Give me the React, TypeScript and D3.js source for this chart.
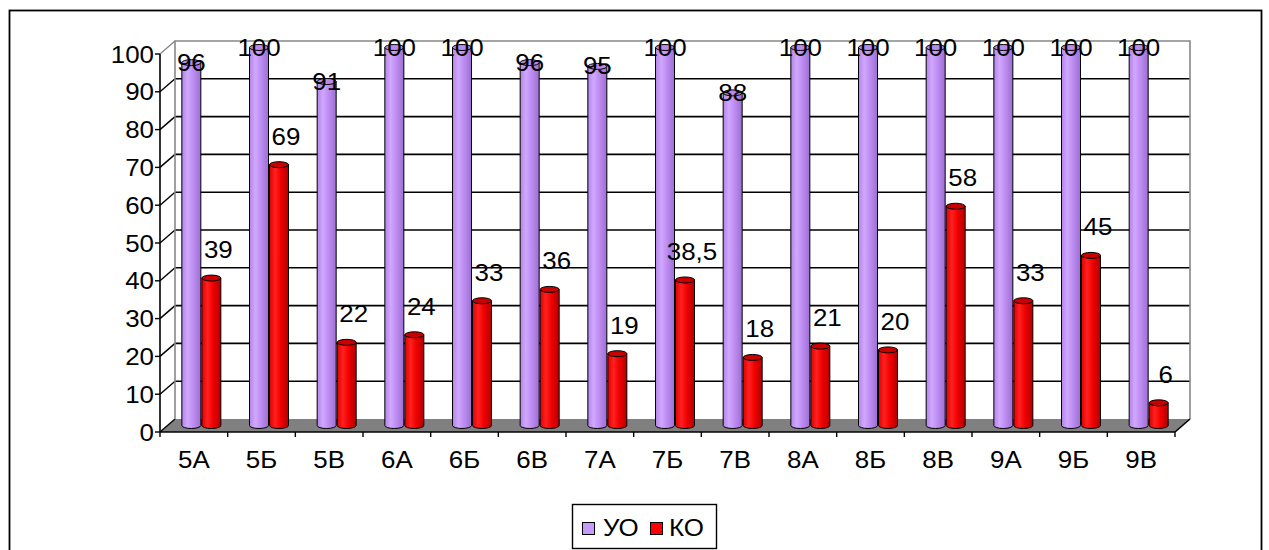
import React from 'react';
import * as d3 from 'd3';

const categories = ['5А', '5Б', '5В', '6А', '6Б', '6В', '7А', '7Б', '7В', '8А', '8Б', '8В', '9А', '9Б', '9В'];
const uoValues = [96, 100, 91, 100, 100, 96, 95, 100, 88, 100, 100, 100, 100, 100, 100];
const koValues = [39, 69, 22, 24, 33, 36, 19, 38.5, 18, 21, 20, 58, 33, 45, 6];
const yTicks = [0, 10, 20, 30, 40, 50, 60, 70, 80, 90, 100];
const seriesNames = ['УО', 'КО'];

const W = 1269;
const H = 550;
const FONT = '"Liberation Sans", Arial, sans-serif';
const DX = 15;
const DY = -13;
const FS = 24;
const SX = 1.08;

function Txt(props: { x: number; y: number; anchor?: string; children: React.ReactNode }) {
  return (
    <text
      transform={`translate(${props.x},${props.y}) scale(${SX},1)`}
      textAnchor={props.anchor || 'start'}
      fontSize={FS}
      fontFamily={FONT}
      fill="#000"
    >
      {props.children}
    </text>
  );
}

export default function App() {
  const x = d3.scaleBand<string>().domain(categories).range([160, 1175]);
  const y = d3.scaleLinear().domain([0, 100]).range([432, 54]);
  const fmt = (v: number) => String(v).replace('.', ',');
  const barW = 19;
  const ry = 3;

  const cyl = (cx: number, v: number) => {
    const topY = y(v) + DY / 2;
    const botY = y(0) + DY / 2;
    const l = cx - barW / 2;
    const r = cx + barW / 2;
    const body = `M${l},${topY} L${l},${botY} A${barW / 2},${ry} 0 0 0 ${r},${botY} L${r},${topY} Z`;
    return { body, topY, botY };
  };

  const bars: React.ReactNode[] = [];
  const labels: React.ReactNode[] = [];
  categories.forEach((c, i) => {
    const center = (x(c) as number) + x.bandwidth() / 2 + DX / 2;
    const uoX = center - barW / 2 - 0.5;
    const koX = center + barW / 2 + 0.5;
    const u = cyl(uoX, uoValues[i]);
    const k = cyl(koX, koValues[i]);
    bars.push(
      <g key={'u' + c}>
        <path d={u.body} fill="url(#gViolet)" stroke="#000" strokeWidth={1} />
        <ellipse cx={uoX} cy={u.topY} rx={barW / 2} ry={ry} fill="#b98aec" stroke="#000" strokeWidth={1} />
      </g>
    );
    bars.push(
      <g key={'k' + c}>
        <path d={k.body} fill="url(#gRed)" stroke="#000" strokeWidth={1} />
        <ellipse cx={koX} cy={k.topY} rx={barW / 2} ry={ry} fill="#c80000" stroke="#000" strokeWidth={1} />
      </g>
    );
    labels.push(
      <Txt key={'lu' + c} x={uoX} y={u.topY + 8} anchor="middle">
        {fmt(uoValues[i])}
      </Txt>
    );
    labels.push(
      <Txt key={'lk' + c} x={koX + 7} y={k.topY - 20} anchor="middle">
        {fmt(koValues[i])}
      </Txt>
    );
  });

  const x0 = 160;
  const x1 = 1175;

  return (
    <svg width={W} height={H} style={{ position: 'absolute', left: 0, top: 0 }}>
      <defs>
        <linearGradient id="gViolet" x1="0" x2="1" y1="0" y2="0">
          <stop offset="0" stopColor="#b283ea" />
          <stop offset="0.3" stopColor="#d0a8fc" />
          <stop offset="0.55" stopColor="#c190f5" />
          <stop offset="1" stopColor="#9d6fd2" />
        </linearGradient>
        <linearGradient id="gRed" x1="0" x2="1" y1="0" y2="0">
          <stop offset="0" stopColor="#e00000" />
          <stop offset="0.3" stopColor="#ff2020" />
          <stop offset="0.6" stopColor="#f00000" />
          <stop offset="1" stopColor="#b00000" />
        </linearGradient>
      </defs>
      <rect x={0} y={0} width={W} height={H} fill="#fff" />
      <rect x={9.5} y={10.5} width={1252} height={560} fill="none" stroke="#000" strokeWidth={1.8} />

      {/* floor */}
      <polygon
        points={`${x0},${y(0)} ${x1},${y(0)} ${x1 + DX},${y(0) + DY} ${x0 + DX},${y(0) + DY}`}
        fill="#808080"
      />
      {/* back wall gridlines */}
      {yTicks.filter((t) => t > 0 && t < 100).map((t) => (
        <line key={'g' + t} x1={x0 + DX} x2={x1 + DX} y1={y(t) + DY} y2={y(t) + DY} stroke="#000" strokeWidth={1.6} />
      ))}
      {/* side wall diagonals */}
      {yTicks.map((t) => (
        <line key={'s' + t} x1={x0} x2={x0 + DX} y1={y(t)} y2={y(t) + DY} stroke={t === 100 ? '#888' : '#000'} strokeWidth={1.4} />
      ))}
      {/* back wall frame */}
      <polyline
        points={`${x0 + DX},${y(0) + DY} ${x0 + DX},${y(100) + DY} ${x1 + DX},${y(100) + DY} ${x1 + DX},${y(0) + DY}`}
        fill="none"
        stroke="#888"
        strokeWidth={1.6}
      />
      {/* front axes */}
      <line x1={x0} x2={x0} y1={y(0)} y2={y(100)} stroke="#000" strokeWidth={1.6} />
      <line x1={x0} x2={x1} y1={y(0)} y2={y(0)} stroke="#000" strokeWidth={1.6} />
      <line x1={x1} x2={x1 + DX} y1={y(0)} y2={y(0) + DY} stroke="#000" strokeWidth={1.6} />
      {yTicks.map((t) => (
        <g key={'yt' + t}>
          <line x1={x0 - 5} x2={x0} y1={y(t)} y2={y(t)} stroke="#000" strokeWidth={1.4} />
          <Txt x={154} y={y(t) + 8.5} anchor="end">
            {t}
          </Txt>
        </g>
      ))}
      <line x1={x0} x2={x0} y1={y(0)} y2={y(0) + 5} stroke="#000" strokeWidth={1.4} />
      {categories.map((c) => (
        <g key={'xt' + c}>
          <line x1={(x(c) as number) + x.bandwidth()} x2={(x(c) as number) + x.bandwidth()} y1={y(0)} y2={y(0) + 5} stroke="#000" strokeWidth={1.4} />
          <Txt x={(x(c) as number) + x.bandwidth() / 2} y={468} anchor="middle">
            {c}
          </Txt>
        </g>
      ))}

      {bars}
      {labels}

      {/* legend */}
      <rect x={572.5} y={504.5} width={144} height={44} fill="#fff" stroke="#000" strokeWidth={1.4} />
      <rect x={582.5} y={522.5} width={12} height={12} fill="#c89bfa" stroke="#000" strokeWidth={1} />
      <Txt x={603} y={536}>{seriesNames[0]}</Txt>
      <rect x={650.5} y={522.5} width={12} height={12} fill="#ff0000" stroke="#000" strokeWidth={1} />
      <Txt x={669} y={536}>{seriesNames[1]}</Txt>
    </svg>
  );
}
